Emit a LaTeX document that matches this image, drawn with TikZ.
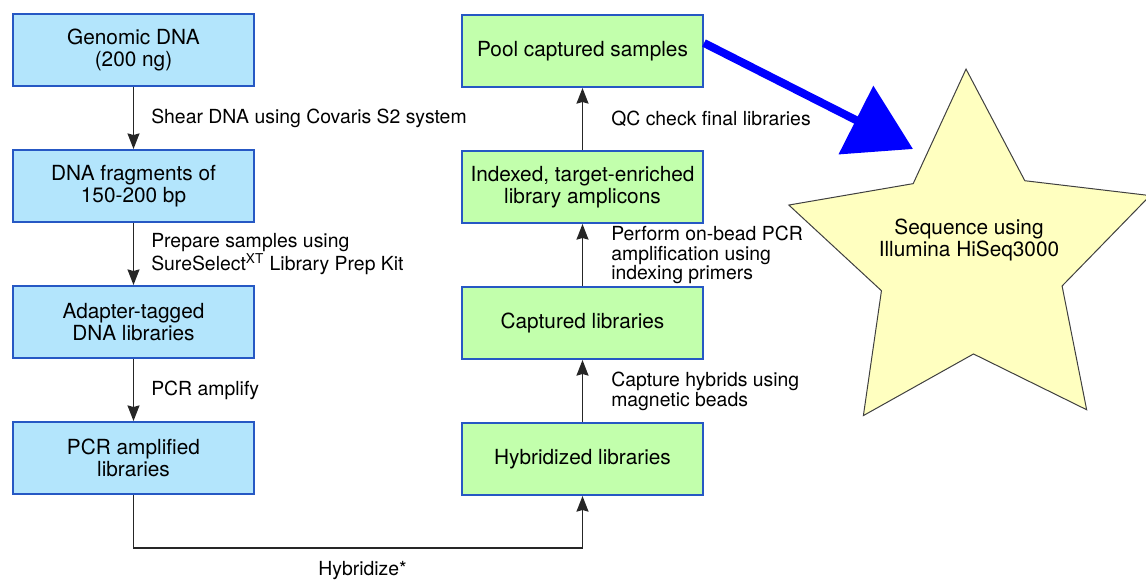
\documentclass[tikz,border=0pt]{standalone}
\usepackage{fontspec}
\setmainfont{TeX Gyre Heros}
\usetikzlibrary{arrows.meta,positioning,shapes.geometric}
\definecolor{dnablue}{RGB}{179,229,252}
\definecolor{capgreen}{RGB}{194,255,172}
\definecolor{boxedge}{RGB}{38,88,196}
\definecolor{starfill}{RGB}{255,255,192}

\begin{document}
\begin{tikzpicture}[x=0.5pt,y=-0.5pt,
    stepbox/.style={draw=boxedge, line width=1pt, minimum width=120.5pt, minimum height=36pt,
        inner sep=0pt, align=center, font=\fontsize{10.4}{10.8}\selectfont},
    dnabox/.style={stepbox, fill=dnablue},
    capbox/.style={stepbox, fill=capgreen},
    flow/.style={draw=black!85, line width=0.75pt, -{Stealth[length=7.8pt,width=6pt,inset=0.8pt]}},
    steplabel/.style={inner sep=0pt, align=left, font=\fontsize{9.7}{9.9}\selectfont},
    bigarrow/.style={draw=blue, line width=4pt, -{Triangle[length=32pt,width=37.5pt]}},
    node distance=31pt]
    \useasboundingbox (0,0) rectangle (1146,579);

    % Library preparation (left column)
    \node[dnabox] (genomic) at (133.5,50) {Genomic DNA\\(200 ng)};
    \node[dnabox, below=of genomic] (fragments) {DNA fragments of\\150-200 bp};
    \node[dnabox, below=of fragments] (tagged) {Adapter-tagged\\DNA libraries};
    \node[dnabox, below=of tagged] (amplified) {PCR amplified\\libraries};

    % Capture and pooling (right column)
    \node[capbox] (hybridized) at (582.5,459) {Hybridized libraries};
    \node[capbox, above=of hybridized] (captured) {Captured libraries};
    \node[capbox, above=of captured] (indexed) {Indexed, target-enriched\\library amplicons};
    \node[capbox, above=of indexed] (pool) {Pool captured samples};

    % Sequencing
    \node[star, star points=5, star point ratio=2, minimum size=190pt, inner sep=0pt,
        shape border rotate=1.5, draw=black!75, fill=starfill, line width=0.5pt] (sequencer) at (971,259) {};
    \node[align=center, inner sep=0pt, font=\fontsize{10.4}{10.9}\selectfont] (seqtext) at (969,240)
        {Sequence using\\Illumina HiSeq3000};
    \coordinate (seqtip) at (913,149);

    % Steps
    \draw[flow] (genomic) -- node[steplabel, right=8.5pt] {Shear DNA using Covaris S2 system} (fragments);
    \draw[flow] (fragments) -- node[steplabel, right=8.5pt] {Prepare samples using\\SureSelect\textsuperscript{XT} Library Prep Kit} (tagged);
    \draw[flow] (tagged) -- node[steplabel, right=8.5pt] {PCR amplify} (amplified);
    \draw[flow] (amplified.south) -- ++(0,53) -| node[steplabel, pos=0.255, below=6.5pt] {Hybridize*} (hybridized.south);
    \draw[flow] (hybridized) -- node[steplabel, right=14pt] {Capture hybrids using\\magnetic beads} (captured);
    \draw[flow] (captured) -- node[steplabel, right=14pt] {Perform on-bead PCR\\amplification using\\indexing primers} (indexed);
    \draw[flow] (indexed) -- node[steplabel, right=14pt] {QC check final libraries} (pool);
    \draw[bigarrow] ([yshift=4pt]pool.east) -- (seqtip);
\end{tikzpicture}
\end{document}
